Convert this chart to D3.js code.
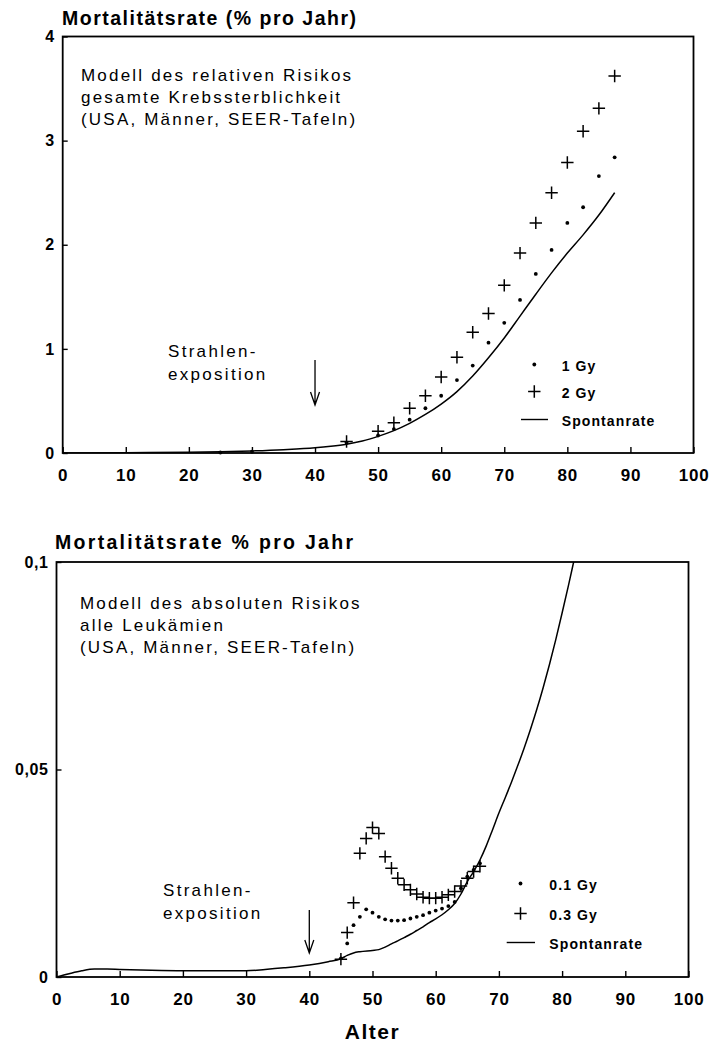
<!DOCTYPE html>
<html><head><meta charset="utf-8">
<script src="https://cdn.jsdelivr.net/npm/d3@7"></script>
<style>
body{margin:0;background:#fff}
text{font-family:"Liberation Sans",Arial,Helvetica,sans-serif;fill:#000}
</style>
</head><body>
<svg id="c" width="711" height="1042"></svg>
<script>
// ---------- data ----------
const xTickValues = [0,10,20,30,40,50,60,70,80,90,100];
const xTickLabels = ["0","10","20","30","40","50","60","70","80","90","100"];
const topYTickValues = [0,1,2,3,4];
const topYTickLabels = ["0","1","2","3","4"];
const botYTickValues = [0,0.05,0.1];
const botYTickLabels = ["0","0,05","0,1"];

// top chart: relative risk model, all cancer mortality (% per year)
const topAges  = [45,50,52.5,55,57.5,60,62.5,65,67.5,70,72.5,75,77.5,80,82.5,85,87.5];
const top1Gy   = [0.10,0.17,0.23,0.32,0.43,0.55,0.70,0.84,1.06,1.25,1.47,1.72,1.95,2.21,2.36,2.66,2.84];
const top2Gy   = [0.11,0.21,0.29,0.43,0.55,0.73,0.92,1.16,1.34,1.61,1.92,2.21,2.50,2.79,3.09,3.31,3.62];
const topLowAges = [25,30];
const topLow1Gy  = [0.005,0.012];
const topSpontAges = [0,10,20,25,30,35,40,42.5,45,47.5,50,52.5,55,57.5,60,62.5,65,67.5,70,72.5,75,77.5,80,82.5,85,87.5];
const topSpontVals = [0,0.003,0.008,0.012,0.02,0.032,0.05,0.065,0.085,0.115,0.16,0.215,0.285,0.37,0.47,0.59,0.74,0.915,1.105,1.315,1.525,1.73,1.92,2.095,2.285,2.50];

// bottom chart: absolute risk model, all leukaemias (% per year)
const botAges = [45,46,47,48,49,50,51,52,53,54,55,56,57,58,59,60,61,62,63,64,65,66,67];
const bot01Gy = [0.0045,0.0081,0.0125,0.0145,0.0163,0.0155,0.0145,0.0139,0.0136,0.0136,0.0137,0.0141,0.0145,0.0149,0.0155,0.0160,0.0165,0.0171,0.0181,0.0214,0.0242,0.0258,0.0274];
const bot03Gy = [0.0043,0.0107,0.0179,0.0298,0.0334,0.0360,0.0346,0.0290,0.0262,0.0238,0.0222,0.0210,0.0200,0.0192,0.0190,0.0190,0.0192,0.0198,0.0206,0.0219,0.0238,0.0254,0.0267];
const botSpontAges = [0,2,4,6,8,10,15,20,25,30,33,36,40,43,45,46,47,48,50,51,52,53,54,55,56,57,58,59,60,61,62,63,64,65,66,67,68,69,70,71,72,73,74,75,76,77,78,79,80,81,82,83];
const botSpontVals = [0,0.0008,0.0015,0.0019,0.0019,0.0018,0.0016,0.0015,0.0015,0.0015,0.0018,0.0022,0.0029,0.0037,0.0044,0.0052,0.0058,0.0061,0.0064,0.0066,0.0072,0.0080,0.0087,0.0095,0.0103,0.0112,0.0121,0.0131,0.0140,0.0150,0.0162,0.0177,0.0200,0.0230,0.0254,0.0282,0.0316,0.0355,0.0395,0.0432,0.0470,0.0510,0.0552,0.0597,0.0645,0.0697,0.0753,0.0813,0.0877,0.0943,0.1012,0.1080];

// ---------- drawing ----------
const svg = d3.select("#c");
const plusPath = s => `M${-s},0H${s}M0,${-s}V${s}`;

function panel(cfg){
  const x = d3.scaleLinear().domain([0,100]).range([cfg.x0,cfg.x1]);
  const y = d3.scaleLinear().domain(cfg.yDomain).range([cfg.y0,cfg.y1]);
  const g = svg.append("g");
  const clipId = "clip"+cfg.id;
  svg.append("defs").append("clipPath").attr("id",clipId)
    .append("rect").attr("x",cfg.x0).attr("y",cfg.y1).attr("width",cfg.x1-cfg.x0).attr("height",cfg.y0-cfg.y1);

  // axes
  const xa = g.append("g").attr("transform",`translate(0,${cfg.y0})`)
    .call(d3.axisBottom(x).tickValues(xTickValues).tickFormat((d,i)=>xTickLabels[i]).tickSize(-6).tickPadding(16));
  const ya = g.append("g").attr("transform",`translate(${cfg.x0},0)`)
    .call(d3.axisLeft(y).tickValues(cfg.yTicks).tickFormat((d,i)=>cfg.yLabels[i]).tickSize(-5).tickPadding(cfg.yPad));
  [xa,ya].forEach(a=>{
    a.select(".domain").remove();
    a.selectAll(".tick line").attr("stroke","#000").attr("stroke-width",1.4);
    a.selectAll(".tick text").attr("font-size",17).attr("font-weight","bold")
      .attr("font-family","'Liberation Sans',Arial,sans-serif").attr("fill","#000");
  });
  xa.selectAll(".tick text").attr("letter-spacing",0.8);
  ya.selectAll(".tick text").attr("font-size",16).attr("letter-spacing",0.6);

  // frame
  g.append("rect").attr("x",cfg.x0).attr("y",cfg.y1)
    .attr("width",cfg.x1-cfg.x0).attr("height",cfg.y0-cfg.y1)
    .attr("fill","none").attr("stroke","#000").attr("stroke-width",1.8);

  // spontaneous rate line
  const line = d3.line().x(d=>x(d[0])).y(d=>y(d[1])).curve(d3.curveMonotoneX);
  g.append("path").datum(d3.zip(cfg.spontAges,cfg.spontVals))
    .attr("clip-path",`url(#${clipId})`)
    .attr("d",line).attr("fill","none").attr("stroke","#000").attr("stroke-width",1.5);

  // dots
  g.selectAll(null).data(d3.zip(cfg.dotAges,cfg.dotVals)).join("circle")
    .attr("cx",d=>x(d[0])).attr("cy",d=>y(d[1])).attr("r",1.9).attr("fill","#000");
  // pluses
  g.selectAll(null).data(d3.zip(cfg.plusAges,cfg.plusVals)).join("path")
    .attr("transform",d=>`translate(${x(d[0])},${y(d[1])})`)
    .attr("d",plusPath(6.2)).attr("stroke","#000").attr("stroke-width",1.5).attr("fill","none");

  // title
  g.append("text").attr("x",cfg.titleX).attr("y",cfg.titleY).text(cfg.title)
    .attr("font-size",19.5).attr("font-weight","bold").attr("letter-spacing",cfg.titleLs);

  // annotation
  cfg.note.forEach((t,i)=>{
    g.append("text").attr("x",cfg.noteX).attr("y",cfg.noteY+i*22).text(t)
      .attr("font-size",17).attr("letter-spacing",2.2);
  });
  ["Strahlen-","exposition"].forEach((t,i)=>{
    g.append("text").attr("x",cfg.strX).attr("y",cfg.strY+i*22.5).text(t)
      .attr("font-size",17).attr("letter-spacing",2.3);
  });
  // arrow at age 40
  const ax = x(40);
  g.append("path").attr("d",`M${ax},${cfg.arrowY1}V${cfg.arrowY2}M${ax-4.5},${cfg.arrowY2-13}L${ax},${cfg.arrowY2}L${ax+4.5},${cfg.arrowY2-13}`)
    .attr("fill","none").attr("stroke","#000").attr("stroke-width",1.3);

  // legend
  const L = cfg.legend;
  g.append("circle").attr("cx",L.mx).attr("cy",L.y1).attr("r",1.9).attr("fill","#000");
  g.append("path").attr("transform",`translate(${L.mx},${L.y2})`).attr("d",plusPath(6.2))
    .attr("stroke","#000").attr("stroke-width",1.5);
  g.append("path").attr("d",`M${L.lx0},${L.y3}H${L.lx1}`).attr("stroke","#000").attr("stroke-width",1.4);
  [[L.t1,L.y1],[L.t2,L.y2],["Spontanrate",L.y3]].forEach(([t,yy])=>{
    g.append("text").attr("x",L.tx).attr("y",yy+6).text(t)
      .attr("font-size",14).attr("font-weight","bold").attr("letter-spacing",1.1);
  });
  return {x,y};
}

panel({
  id:"top", x0:62.7, x1:693.5, y0:453, y1:36.5, yDomain:[0,4],
  yTicks:topYTickValues, yLabels:topYTickLabels, yPad:8,
  spontAges:topSpontAges, spontVals:topSpontVals,
  dotAges:topLowAges.concat(topAges), dotVals:topLow1Gy.concat(top1Gy),
  plusAges:topAges, plusVals:top2Gy,
  title:"Mortalitätsrate (% pro Jahr)", titleX:62, titleY:25, titleLs:1.5,
  note:["Modell des relativen Risikos","gesamte Krebssterblichkeit","(USA, Männer, SEER-Tafeln)"],
  noteX:81, noteY:81,
  strX:168, strY:357, arrowY1:360, arrowY2:405,
  legend:{mx:534.3, lx0:521, lx1:548, tx:561.7, y1:364.5, y2:391.5, y3:419.5, t1:"1 Gy", t2:"2 Gy"}
});

panel({
  id:"bot", x0:56.5, x1:688.5, y0:977, y1:562, yDomain:[0,0.1],
  yTicks:botYTickValues, yLabels:botYTickLabels, yPad:8,
  spontAges:botSpontAges, spontVals:botSpontVals,
  dotAges:botAges, dotVals:bot01Gy,
  plusAges:botAges, plusVals:bot03Gy,
  title:"Mortalitätsrate % pro Jahr", titleX:55, titleY:549, titleLs:2.3,
  note:["Modell des absoluten Risikos","alle Leukämien","(USA, Männer, SEER-Tafeln)"],
  noteX:80, noteY:609,
  strX:163, strY:896, arrowY1:910, arrowY2:953,
  legend:{mx:520.5, lx0:506.7, lx1:535, tx:549.3, y1:883.5, y2:913.5, y3:942.5, t1:"0.1 Gy", t2:"0.3 Gy"}
});

svg.append("text").attr("x",372.5).attr("y",1039).attr("text-anchor","middle")
  .attr("font-size",21).attr("font-weight","bold").attr("letter-spacing",1.5).text("Alter");
</script>
</body></html>
